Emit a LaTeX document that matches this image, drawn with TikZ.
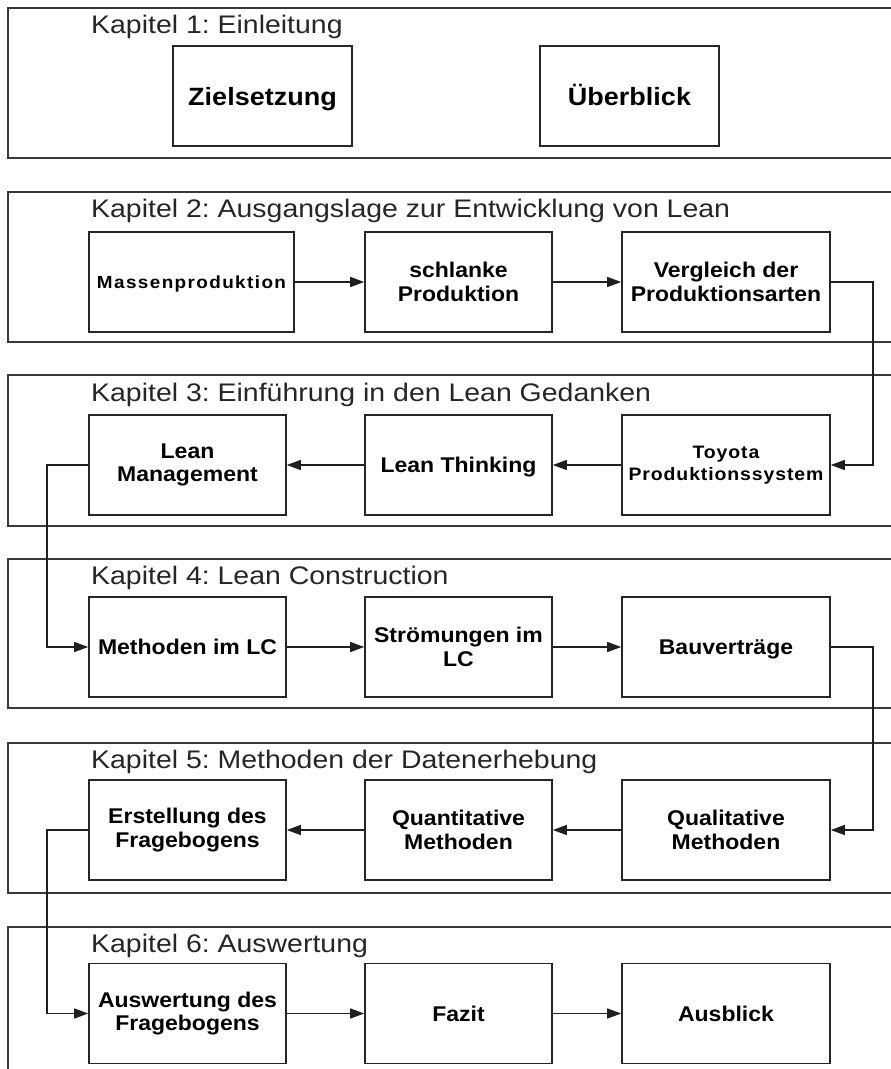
\documentclass[tikz,border=0pt]{standalone}
\usepackage{fontspec}
\setmainfont{Liberation Sans}[FakeStretch=1.08]
\newfontfamily\ttlfam{Liberation Sans}[FakeStretch=1.12]
\usetikzlibrary{arrows.meta}
\frenchspacing
\newcommand\bxfont{\fontsize{21.3}{23.5}\selectfont\bfseries}
\newcommand\bigbxfont{\fontsize{25}{28}\selectfont\bfseries}
\newcommand\ttlfont{\ttlfam\fontsize{25.4}{28}\selectfont}
\newcommand\spacedfont{\fontsize{18}{22.6}\selectfont\bfseries\addfontfeatures{LetterSpace=5}}
\newcommand\massfont{\fontsize{17.5}{21}\selectfont\bfseries\addfontfeatures{LetterSpace=8}}
\tikzset{
  chap/.style={draw=black!78, line width=1.8pt},
  box/.style={draw=black!85, line width=1.6pt, minimum height=100pt, inner sep=0pt, align=center, font=\bxfont},
  oneline/.style={text height=#1, text depth=0pt},
  oneline/.default=15.3pt,
  chaptitle/.style={anchor=base west, inner sep=0pt, font=\ttlfont, text=black!85},
  conn/.style={draw=black!88, line width=1.3pt, -{Triangle[length=14pt,width=10pt]}},
}
\begin{document}
\begin{tikzpicture}[x=1pt,y=-1pt]
\useasboundingbox (0,0) rectangle (891,1069);
\clip (0,0) rectangle (891,1069);
\fill[white] (0,0) rectangle (891,1069);

% chapter frames
\draw[chap] (8,8) rectangle (905,158);
\draw[chap] (8,192) rectangle (905,342);
\draw[chap] (8,375) rectangle (905,526);
\draw[chap] (8,559) rectangle (905,708);
\draw[chap] (8,743) rectangle (905,893);
\draw[chap] (8,927) rectangle (905,1085);

% titles
\node[chaptitle] (t1) at (91,33) {Kapitel 1: Einleitung};
\node[chaptitle] (t2) at (91,217.5) {Kapitel 2: Ausgangslage zur Entwicklung von Lean};
\node[chaptitle] (t3) at (91,401) {Kapitel 3: Einführung in den Lean Gedanken};
\node[chaptitle] (t4) at (91,584) {Kapitel 4: Lean Construction};
\node[chaptitle] (t5) at (91,768) {Kapitel 5: Methoden der Datenerhebung};
\node[chaptitle] (t6) at (91,952) {Kapitel 6: Auswertung};

% chapter 1
\node[box, oneline=18pt, font=\bigbxfont, minimum width=179pt] (ziel) at (262.5,96) {Zielsetzung};
\node[box, oneline=18pt, font=\bigbxfont, minimum width=179pt] (ueber) at (629.5,96) {Überblick};

% chapter 2
\node[box, oneline=12.6pt, font=\massfont, minimum width=205pt] (massen) at (191.5,282) {Massenproduktion};
\node[box, minimum width=187pt] (schlank) at (458.5,282) {schlanke\\Produktion};
\node[box, minimum width=208pt] (vergl) at (726,282) {Vergleich der\\Produktionsarten};

% chapter 3
\node[box, minimum width=197pt] (lmgmt) at (187.5,465) {Lean\\Management};
\node[box, oneline, minimum width=187pt] (lthink) at (458.5,465) {Lean Thinking};
\node[box, font=\spacedfont, minimum width=208pt] (toyota) at (726,465) {Toyota\\Produktionssystem};

% chapter 4
\node[box, oneline, minimum width=197pt] (meth) at (187.5,647) {Methoden im LC};
\node[box, minimum width=187pt] (stroem) at (458.5,647) {Strömungen im\\LC};
\node[box, oneline, minimum width=208pt] (bau) at (726,647) {Bauverträge};

% chapter 5
\node[box, minimum width=197pt] (erst) at (187.5,830) {Erstellung des\\Fragebogens};
\node[box, minimum width=187pt] (quant) at (458.5,830) {Quantitative\\Methoden};
\node[box, minimum width=208pt] (qual) at (726,830) {Qualitative\\Methoden};

% chapter 6
\node[box, minimum width=197pt] (ausw) at (187.5,1013.5) {Auswertung des\\Fragebogens};
\node[box, oneline, minimum width=187pt] (fazit) at (458.5,1013.5) {Fazit};
\node[box, oneline, minimum width=208pt] (ausbl) at (726,1013.5) {Ausblick};

% connectors
\draw[conn] (massen) -- (schlank);
\draw[conn] (schlank) -- (vergl);
\draw[conn] (vergl.east) -- (873,282) -- (873,465) -- (toyota.east);
\draw[conn] (toyota) -- (lthink);
\draw[conn] (lthink) -- (lmgmt);
\draw[conn] (lmgmt.west) -- (47,465) -- (47,647) -- (meth.west);
\draw[conn] (meth) -- (stroem);
\draw[conn] (stroem) -- (bau);
\draw[conn] (bau.east) -- (873,647) -- (873,830) -- (qual.east);
\draw[conn] (qual) -- (quant);
\draw[conn] (quant) -- (erst);
\draw[conn] (erst.west) -- (47,830) -- (47,1013.5) -- (ausw.west);
\draw[conn] (ausw) -- (fazit);
\draw[conn] (fazit) -- (ausbl);
\end{tikzpicture}
\end{document}
